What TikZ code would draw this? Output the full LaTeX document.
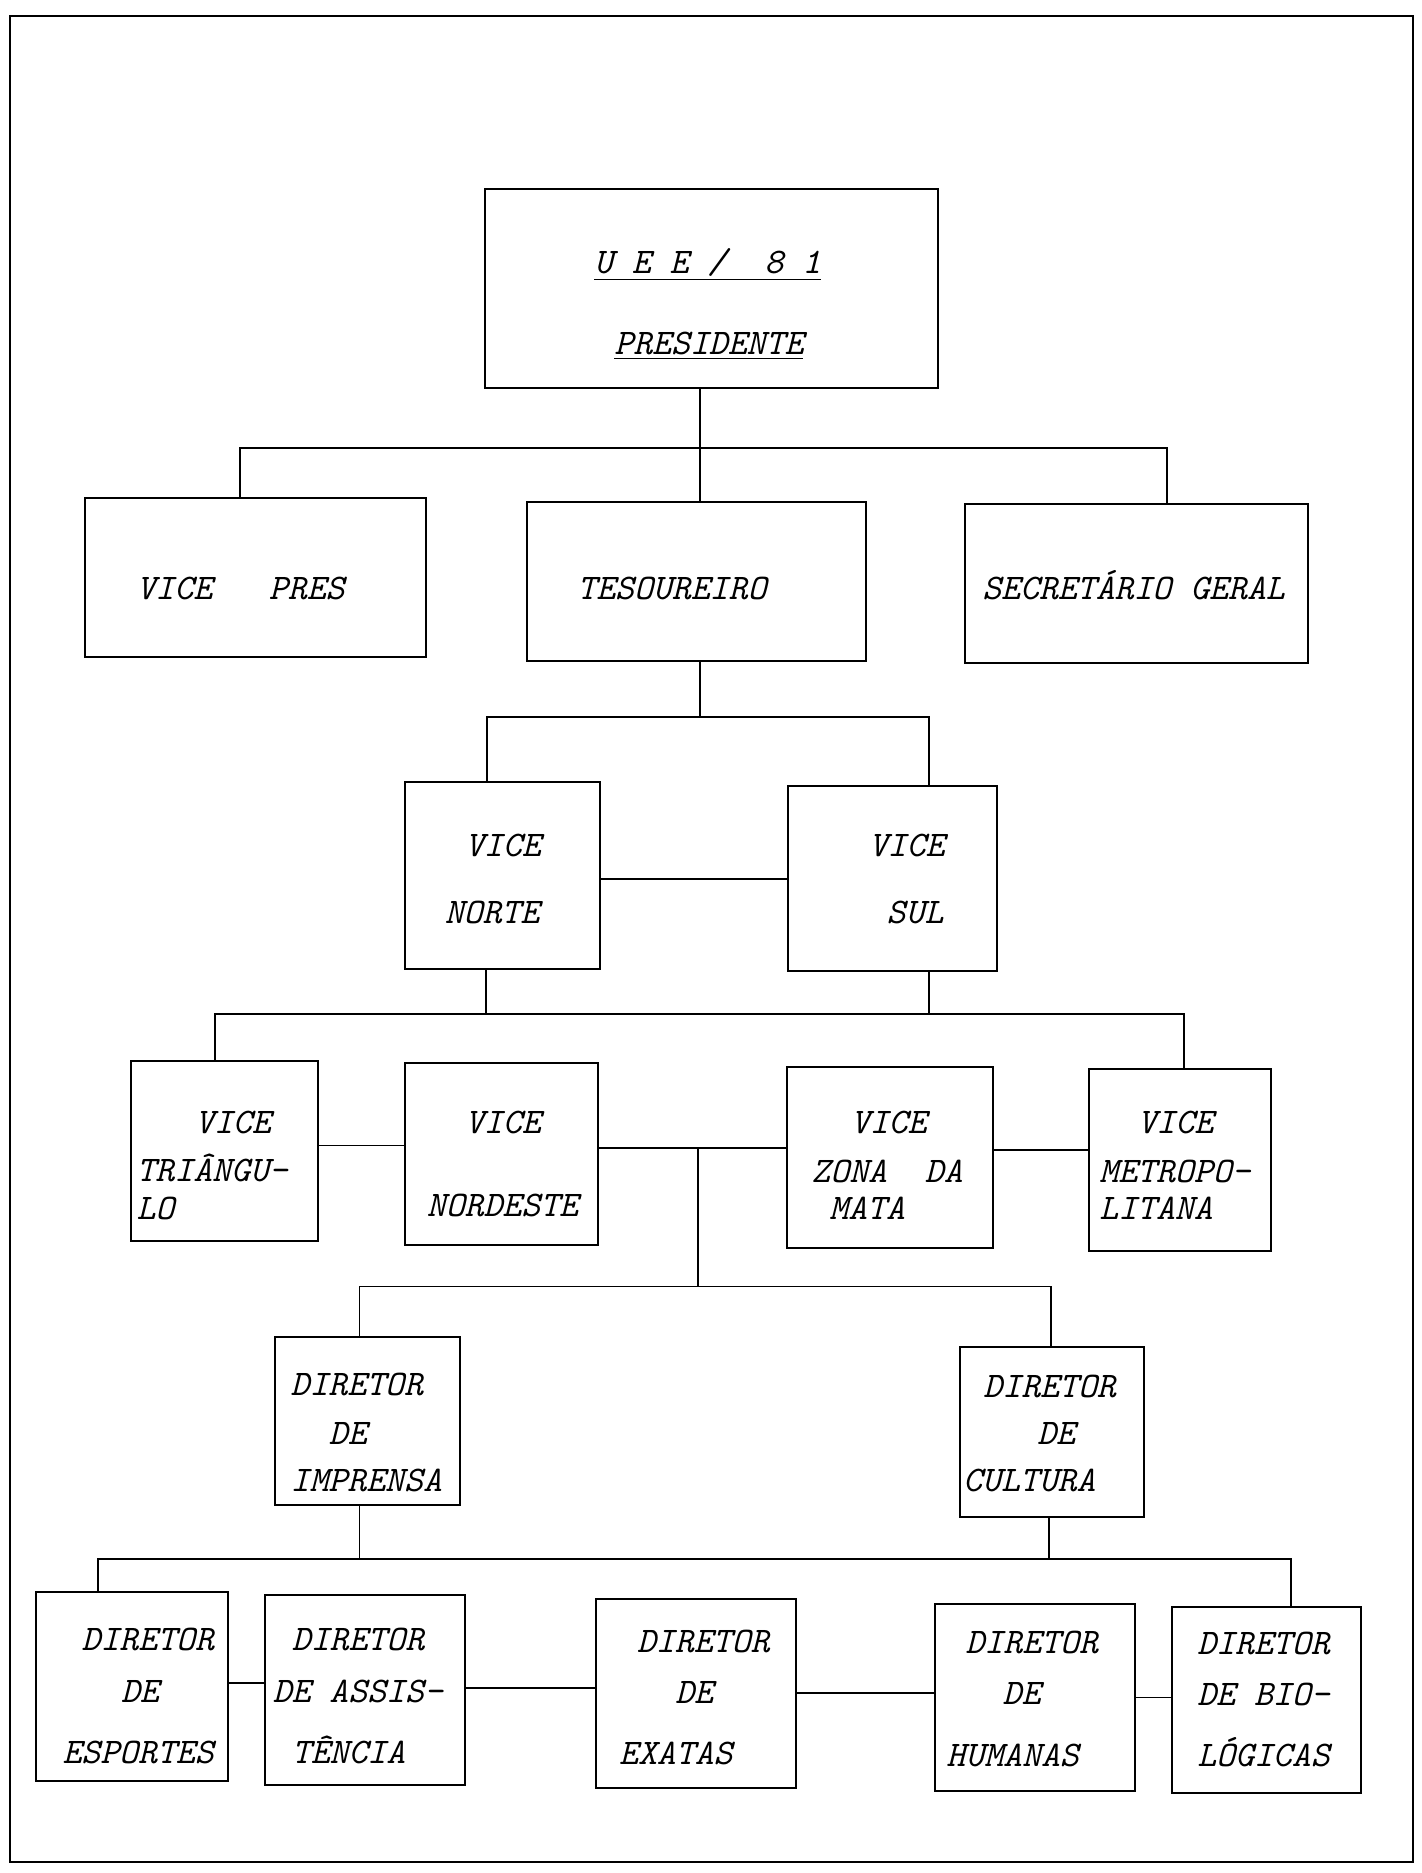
\documentclass[tikz,border=0pt]{standalone}
\usepackage{fontspec}
\usetikzlibrary{fit}
\begin{document}
\begin{tikzpicture}[x=0.597pt,y=-0.597pt,
  box/.style={draw, line width=1pt, inner sep=0pt, rectangle},
  lbl/.style={font=\fontsize{18}{21}\selectfont\ttfamily\itshape, inner sep=0pt, anchor=base west},
  wire/.style={line width=0.9pt}]
\useasboundingbox (0,0) rectangle (1190,1568);
\draw[line width=1pt] (8,13) rectangle (1183,1559);

% ---- level 0
\node[box, fit={(406,158) (785,325)}] (pres) {};
\node[lbl] (presA) at (497,229) {\underline{U~E~E~/~~8~1}};
\node[lbl] (presB) at (514,297) {\underline{PRESIDENTE}};

% ---- level 1
\node[box, fit={(71,417) (357,550)}] (vp) {};
\node[lbl] (vpT) at (114,502) {VICE~~~PRES};
\node[box, fit={(441,420) (725,553)}] (tes) {};
\node[lbl] (tesT) at (483,502) {TESOUREIRO};
\node[box, fit={(808,422) (1095,555)}] (sg) {};
\node[lbl] (sgT) at (822,502) {SECRETÁRIO GERAL};

\coordinate (b1) at (586,375);
\coordinate (b1l) at (201,375);
\coordinate (b1r) at (977,375);
\draw[wire] (pres.south -| b1) -- (b1);
\draw[wire] (vp.north -| b1l) -- (b1l) -- (b1r) -- (sg.north -| b1r);
\draw[wire] (b1) -- (tes.north -| b1);

% ---- level 2
\node[box, fit={(339,655) (502,811)}] (vn) {};
\node[lbl] (vnA) at (389,717) {VICE};
\node[lbl] (vnB) at (372,773) {NORTE};
\node[box, fit={(660,658) (835,813)}] (vs) {};
\node[lbl] (vsA) at (727,717) {VICE};
\node[lbl] (vsB) at (742,773) {SUL};

\coordinate (b2) at (586,600);
\coordinate (b2l) at (408,600);
\coordinate (b2r) at (778,600);
\draw[wire] (tes.south -| b2) -- (b2);
\draw[wire] (vn.north -| b2l) -- (b2l) -- (b2r) -- (vs.north -| b2r);
\draw[wire] (vn.east |- 0,736) -- (vs.west |- 0,736);

% ---- level 3
\node[box, fit={(110,888) (266,1039)}] (vt) {};
\node[lbl] (vtA) at (163,949) {VICE};
\node[lbl] (vtB) at (114,989) {TRIÂNGU-};
\node[lbl] (vtC) at (114,1021) {LO};
\node[box, fit={(339,890) (501,1042)}] (vne) {};
\node[lbl] (vneA) at (389,949) {VICE};
\node[lbl] (vneB) at (357,1018) {NORDESTE};
\node[box, fit={(659,893) (831,1045)}] (vz) {};
\node[lbl] (vzA) at (712,949) {VICE};
\node[lbl] (vzB) at (679,990) {ZONA~~DA};
\node[lbl] (vzC) at (694,1021) {MATA};
\node[box, fit={(912,895) (1064,1047)}] (vm) {};
\node[lbl] (vmA) at (952,949) {VICE};
\node[lbl] (vmB) at (920,990) {METROPO-};
\node[lbl] (vmC) at (920,1021) {LITANA};

\coordinate (b3a) at (407,849);
\coordinate (b3b) at (778,849);
\coordinate (b3l) at (180,849);
\coordinate (b3r) at (991,849);
\draw[wire] (vn.south -| b3a) -- (b3a);
\draw[wire] (vs.south -| b3b) -- (b3b);
\draw[wire] (vt.north -| b3l) -- (b3l) -- (b3r) -- (vm.north -| b3r);
\draw[wire] (vt.east |- 0,959) -- (vne.west |- 0,959);
\draw[wire] (vne.east |- 0,961) -- (vz.west |- 0,961);
\draw[wire] (vz.east |- 0,963) -- (vm.west |- 0,963);

% ---- level 4
\node[box, fit={(230,1119) (385,1260)}] (imp) {};
\node[lbl] (impA) at (243,1168) {DIRETOR};
\node[lbl] (impB) at (275,1209) {DE};
\node[lbl] (impC) at (243,1249) {IMPRENSA};
\node[box, fit={(804,1128) (958,1270)}] (cul) {};
\node[lbl] (culA) at (823,1170) {DIRETOR};
\node[lbl] (culB) at (868,1209) {DE};
\node[lbl] (culC) at (806,1249) {CULTURA};

\coordinate (b4) at (584,1077);
\coordinate (b4l) at (301,1077);
\coordinate (b4r) at (880,1077);
\draw[wire] (b4 |- 0,961) -- (b4);
\draw[wire] (imp.north -| b4l) -- (b4l) -- (b4r) -- (cul.north -| b4r);

% ---- level 5
\node[box, fit={(30,1333) (191,1491)}] (esp) {};
\node[lbl] (espA) at (68,1382) {DIRETOR};
\node[lbl] (espB) at (101,1425) {DE};
\node[lbl] (espC) at (52,1476) {ESPORTES};
\node[box, fit={(222,1335) (389,1494)}] (ass) {};
\node[lbl] (assA) at (244,1382) {DIRETOR};
\node[lbl] (assB) at (228,1425) {DE ASSIS-};
\node[lbl] (assC) at (244,1476) {TÊNCIA};
\node[box, fit={(499,1339) (666,1497)}] (exa) {};
\node[lbl] (exaA) at (533,1383) {DIRETOR};
\node[lbl] (exaB) at (565,1426) {DE};
\node[lbl] (exaC) at (518,1477) {EXATAS};
\node[box, fit={(783,1343) (950,1499)}] (hum) {};
\node[lbl] (humA) at (808,1384) {DIRETOR};
\node[lbl] (humB) at (839,1427) {DE};
\node[lbl] (humC) at (792,1479) {HUMANAS};
\node[box, fit={(981,1345) (1139,1501)}] (bio) {};
\node[lbl] (bioA) at (1002,1385) {DIRETOR};
\node[lbl] (bioB) at (1002,1428) {DE BIO-};
\node[lbl] (bioC) at (1002,1479) {LÓGICAS};

\coordinate (b5a) at (301,1305);
\coordinate (b5b) at (878,1305);
\coordinate (b5l) at (82,1305);
\coordinate (b5r) at (1081,1305);
\draw[wire] (imp.south -| b5a) -- (b5a);
\draw[wire] (cul.south -| b5b) -- (b5b);
\draw[wire] (esp.north -| b5l) -- (b5l) -- (b5r) -- (bio.north -| b5r);
\draw[wire] (esp.east |- 0,1409) -- (ass.west |- 0,1409);
\draw[wire] (ass.east |- 0,1413) -- (exa.west |- 0,1413);
\draw[wire] (exa.east |- 0,1417) -- (hum.west |- 0,1417);
\draw[wire] (hum.east |- 0,1421) -- (bio.west |- 0,1421);
\end{tikzpicture}
\end{document}
